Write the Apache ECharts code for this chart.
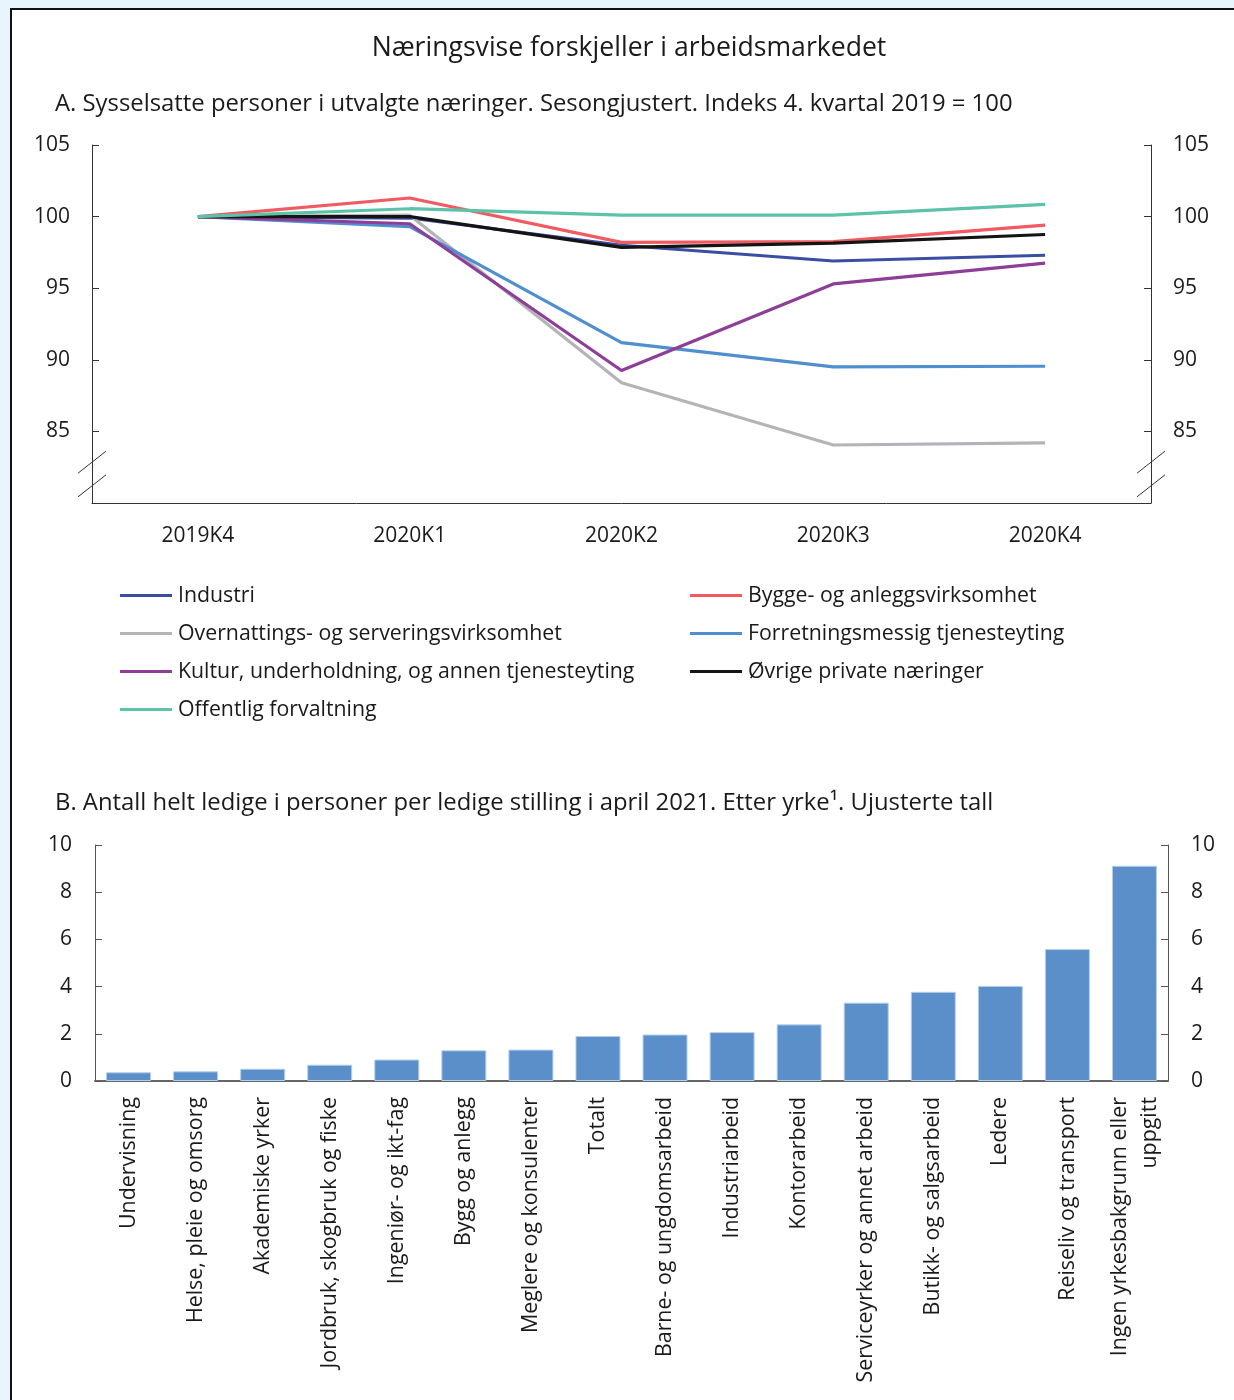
<!DOCTYPE html>
<html>
<head>
<meta charset="utf-8">
<script src="https://cdn.jsdelivr.net/npm/echarts@6/dist/echarts.min.js"></script>
<style>
  html, body { margin:0; padding:0; background:#e9f5fc; width:1234px; height:1400px; overflow:hidden; }
  #panel { position:absolute; left:10px; top:8px; width:1240px; height:1420px; background:#fff; border:2px solid #111; box-sizing:border-box; }
  #chart { position:absolute; left:0; top:0; width:1234px; height:1400px; }
</style>
</head>
<body>
<div id="panel"></div>
<div id="chart"></div>
<script>
// ---- Panel A data ----
const quarters = ['2019K4', '2020K1', '2020K2', '2020K3', '2020K4'];
const industri    = [100, 99.9, 98.0, 96.9, 97.3];
const bygge       = [100, 101.3, 98.2, 98.25, 99.4];
const overnatting = [100, 100.1, 88.4, 84.05, 84.2];
const forretning  = [100, 99.3, 91.2, 89.5, 89.55];
const kultur      = [100, 99.5, 89.25, 95.3, 96.75];
const ovrige      = [100, 100.0, 97.85, 98.15, 98.75];
const offentlig   = [100, 100.55, 100.1, 100.1, 100.85];

// ---- Panel B data ----
const occupations = [
  'Undervisning', 'Helse, pleie og omsorg', 'Akademiske yrker', 'Jordbruk, skogbruk og fiske',
  'Ingeniør- og ikt-fag', 'Bygg og anlegg', 'Meglere og konsulenter', 'Totalt',
  'Barne- og ungdomsarbeid', 'Industriarbeid', 'Kontorarbeid', 'Serviceyrker og annet arbeid',
  'Butikk- og salgsarbeid', 'Ledere', 'Reiseliv og transport', 'Ingen yrkesbakgrunn eller\nuppgitt'
];
const ledigePerStilling = [0.37, 0.41, 0.52, 0.69, 0.91, 1.30, 1.33, 1.91, 1.97, 2.07, 2.40, 3.32, 3.78, 4.03, 5.59, 9.12];

const FONT = '"Open Sans", "Noto Sans", sans-serif';
const TXT = '#1a1a1a';

const chart = echarts.init(document.getElementById('chart'), null, { renderer: 'canvas' });

function lineSeries(name, data, color) {
  return {
    name: name, type: 'line', data: data, xAxisIndex: 0, yAxisIndex: 0,
    showSymbol: false, symbol: 'none', lineStyle: { width: 3.2, color: color }, itemStyle: { color: color },
    emphasis: { disabled: true }, animation: false
  };
}

const yAxisA = (pos) => ({
  type: 'value', gridIndex: 0, position: pos, min: 80, max: 105, interval: 5,
  axisLine: { show: true, lineStyle: { color: '#333', width: 1 } },
  axisTick: { show: true, inside: true, length: 7, lineStyle: { color: '#333' } },
  splitLine: { show: false },
  axisLabel: { fontFamily: FONT, fontSize: 21, color: TXT, margin: 22, padding: [3, 0, 0, 0],
    formatter: v => (v === 80 ? '' : String(v)) }
});
const yAxisB = (pos) => ({
  type: 'value', gridIndex: 1, position: pos, min: 0, max: 10, interval: 2,
  axisLine: { show: true, lineStyle: { color: '#555', width: 1 } },
  axisTick: { show: true, inside: true, length: 7, lineStyle: { color: '#555' } },
  splitLine: { show: false },
  axisLabel: { fontFamily: FONT, fontSize: 21, color: TXT, margin: 23, padding: [3, 0, 0, 0] }
});

const option = {
  backgroundColor: 'transparent',
  animation: false,
  textStyle: { fontFamily: FONT },
  title: [
    { text: 'Næringsvise forskjeller i arbeidsmarkedet', left: 624, textAlign: 'center', top: 30,
      textStyle: { fontFamily: FONT, fontSize: 26.6, fontWeight: 'normal', color: TXT } },
    { text: 'A. Sysselsatte personer i utvalgte næringer. Sesongjustert. Indeks 4. kvartal 2019 = 100', left: 50, top: 87,
      textStyle: { fontFamily: FONT, fontSize: 23.85, fontWeight: 'normal', color: TXT } },
    { text: 'B. Antall helt ledige i personer per ledige stilling i april 2021. Etter yrke¹. Ujusterte tall', left: 50, top: 786,
      textStyle: { fontFamily: FONT, fontSize: 23.85, fontWeight: 'normal', color: TXT } }
  ],
  legend: [
    { data: ['Industri', 'Overnattings- og serveringsvirksomhet', 'Kultur, underholdning, og annen tjenesteyting', 'Offentlig forvaltning'],
      orient: 'vertical', left: 115, top: 580, itemGap: 17, itemWidth: 52, itemHeight: 3, icon: 'rect',
      textStyle: { fontFamily: FONT, fontSize: 21.3, color: TXT, lineHeight: 21, padding: [0, 0, 0, 1] } },
    { data: ['Bygge- og anleggsvirksomhet', 'Forretningsmessig tjenesteyting', 'Øvrige private næringer'],
      orient: 'vertical', left: 685, top: 580, itemGap: 17, itemWidth: 52, itemHeight: 3, icon: 'rect',
      textStyle: { fontFamily: FONT, fontSize: 21.3, color: TXT, lineHeight: 21, padding: [0, 0, 0, 1] } }
  ],
  grid: [
    { left: 92, right: 83, top: 145, height: 358, containLabel: false },
    { left: 95, right: 66, top: 845, height: 236, containLabel: false }
  ],
  xAxis: [
    { type: 'category', gridIndex: 0, data: quarters, boundaryGap: true,
      axisLine: { show: true, lineStyle: { color: '#333', width: 1 } },
      axisTick: { show: false },
      axisLabel: { fontFamily: FONT, fontSize: 21, color: TXT, margin: 23 } },
    { type: 'category', gridIndex: 1, data: occupations, boundaryGap: true,
      axisLine: { show: true, lineStyle: { color: '#666', width: 2 } },
      axisTick: { show: false },
      axisLabel: { fontFamily: FONT, fontSize: 21.4, color: TXT, rotate: 90, margin: 16, interval: 0, lineHeight: 30 } }
  ],
  yAxis: [yAxisA('left'), yAxisA('right'), yAxisB('left'), yAxisB('right')],
  series: [
    lineSeries('Industri', industri, '#3a4ea3'),
    lineSeries('Bygge- og anleggsvirksomhet', bygge, '#f05a61'),
    lineSeries('Overnattings- og serveringsvirksomhet', overnatting, '#b4b4b8'),
    lineSeries('Forretningsmessig tjenesteyting', forretning, '#4f8fd0'),
    lineSeries('Kultur, underholdning, og annen tjenesteyting', kultur, '#8d3f98'),
    lineSeries('Øvrige private næringer', ovrige, '#141414'),
    lineSeries('Offentlig forvaltning', offentlig, '#5cc3a8'),
    { name: 'Ledige per stilling', type: 'bar', xAxisIndex: 1, yAxisIndex: 2, data: ledigePerStilling,
      barWidth: 45, itemStyle: { color: '#5b8fca', borderColor: '#b5cfea', borderWidth: 1 },
      emphasis: { disabled: true } }
  ]
};
chart.setOption(option);

// axis break marks on panel A
const gridRect = chart.getModel().getComponent('grid', 0).coordinateSystem.getRect();
const yUp = chart.convertToPixel({ yAxisIndex: 0 }, 82.85);
const yLo = chart.convertToPixel({ yAxisIndex: 0 }, 81.2);
const marks = [];
[gridRect.x, gridRect.x + gridRect.width].forEach(ax => {
  [yUp, yLo].forEach(yy => {
    marks.push({ type: 'line', shape: { x1: ax - 14, y1: yy + 11, x2: ax + 14, y2: yy - 11 },
      style: { stroke: '#333', lineWidth: 1 }, silent: true, z: 100 });
  });
});
chart.setOption({ graphic: marks });
</script>
</body>
</html>
